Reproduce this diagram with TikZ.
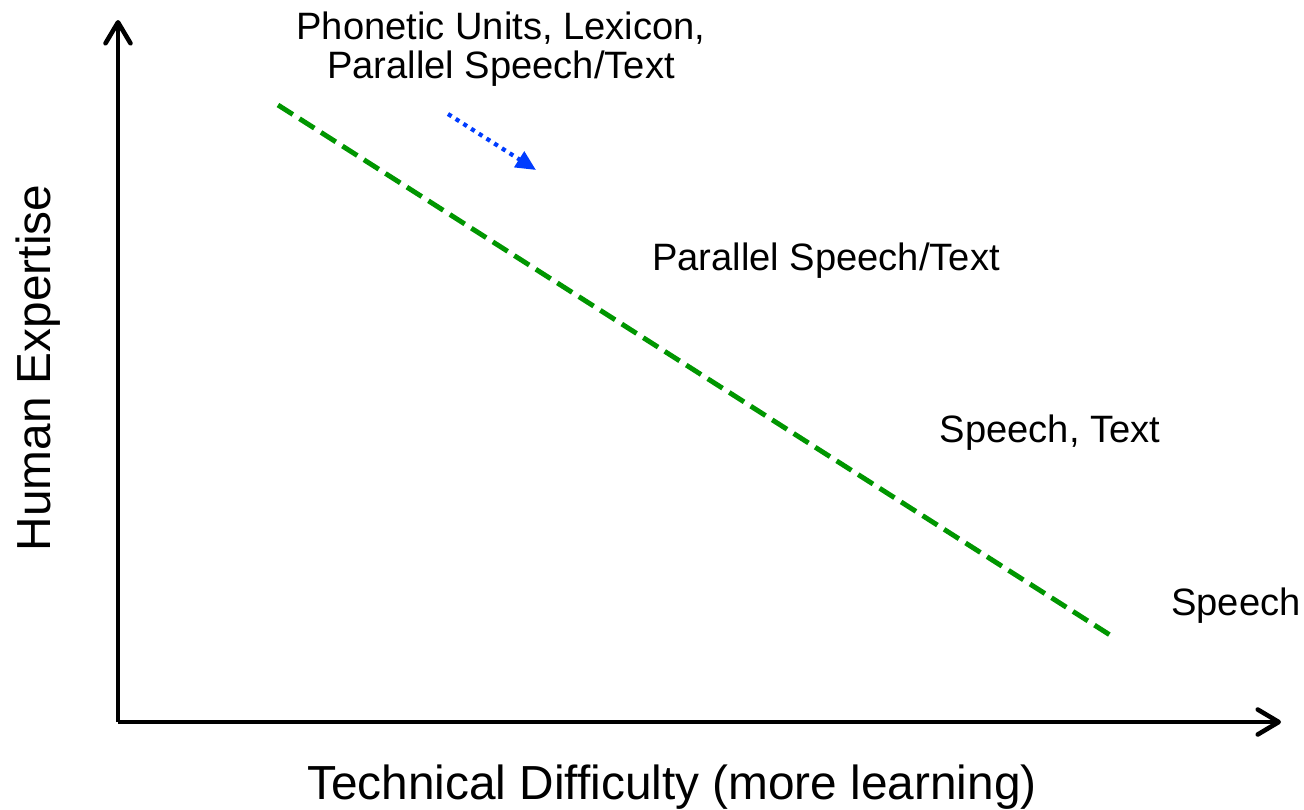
\documentclass[tikz,border=0pt]{standalone}
\usepackage{fontspec}
\setmainfont{Liberation Sans}
\usetikzlibrary{arrows.meta,positioning}
\definecolor{lgreen}{RGB}{0,150,0}
\definecolor{lblue}{RGB}{0,60,255}
\tikzset{every picture/.style={line width=0.75pt}}

\begin{document}
\begin{tikzpicture}[x=0.02cm,y=-0.02cm,
    axis/.style={line width=2.6pt,-{Straight Barb[length=0.42cm,width=0.5cm,line cap=round,round]}},
    axlabel/.style={font=\fontsize{27.2}{30}\selectfont},
    lbl/.style={font=\fontsize{21.7}{22.5}\selectfont,align=center}]
    \useasboundingbox (0,0) rectangle (1304,809);

    % 坐标轴
    \coordinate (O) at (118,722);
    \coordinate (xend) at (1281,722);
    \coordinate (yend) at (118,20);
    \draw[axis] (O) -- (xend);
    \draw[axis] (O) -- (yend);
    \node[axlabel] (xlab) at (672,787) {Technical Difficulty (more learning)};
    \node[axlabel,rotate=90] (ylab) at (38,368) {Human Expertise};

    % 分界线
    \coordinate (lstart) at (278,105);
    \coordinate (lend) at (1110,635);
    \draw[lgreen,line width=2.8pt,dash pattern=on 10pt off 4.5pt] (lstart) -- (lend);

    % 方向箭头
    \coordinate (astart) at (448,114);
    \coordinate (aend) at (536,170);
    \draw[lblue,line width=2.4pt,dash pattern=on 2.4pt off 2.8pt,
        -{Triangle[length=0.4cm,width=0.36cm]}] (astart) -- (aend);

    % 数据标注
    \node[lbl] (top) at (501,49) {Phonetic Units, Lexicon,\\Parallel Speech/Text};
    \node[lbl] (par) at (826,261) {Parallel Speech/Text};
    \node[lbl] (st) at (1050,433) {Speech, Text};
    \node[lbl] (sp) at (1236,606) {Speech};
\end{tikzpicture}
\end{document}
